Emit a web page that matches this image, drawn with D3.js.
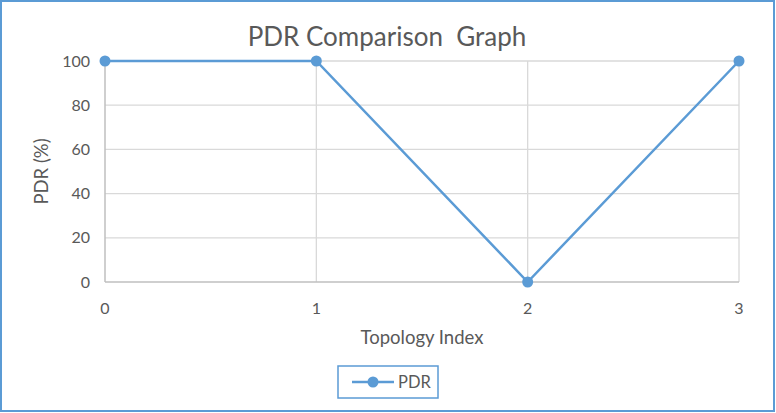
<!DOCTYPE html>
<html><head><meta charset="utf-8">
<script src="https://cdn.jsdelivr.net/npm/d3@7"></script>
<style>body{margin:0;background:#fff;} svg{display:block;font-family:Lato,"Open Sans",sans-serif;}</style>
</head><body>
<svg id="c" width="776" height="413"></svg>
<script>
const xValues = [0, 1, 2, 3];
const pdrValues = [100, 100, 0, 100];
const yTicks = [0, 20, 40, 60, 80, 100];
const xTicks = [0, 1, 2, 3];
const seriesName = "PDR";

const svg = d3.select("#c");
const W = 776, H = 413;
const blue = "#5B9BD5", txt = "#595959";
svg.append("rect").attr("x",1).attr("y",1).attr("width",W-3).attr("height",H-3)
  .attr("fill","#fff").attr("stroke",blue).attr("stroke-width",2);

const x = d3.scaleLinear().domain([0,3]).range([105,739]);
const y = d3.scaleLinear().domain([0,100]).range([282,61]);

// gridlines
svg.append("g").selectAll("line").data(yTicks.filter(d=>d>0)).join("line")
  .attr("x1",x(0)).attr("x2",x(3)).attr("y1",d=>y(d)).attr("y2",d=>y(d))
  .attr("stroke","#D9D9D9").attr("stroke-width",1.3);
svg.append("g").selectAll("line").data(xTicks.filter(d=>d>0)).join("line")
  .attr("y1",y(0)).attr("y2",y(100)).attr("x1",d=>x(d)).attr("x2",d=>x(d))
  .attr("stroke","#D9D9D9").attr("stroke-width",1.3);

// axes lines
svg.append("line").attr("x1",x(0)).attr("x2",x(3)).attr("y1",y(0)).attr("y2",y(0))
  .attr("stroke","#BFBFBF").attr("stroke-width",1.5);
svg.append("line").attr("x1",x(0)).attr("x2",x(0)).attr("y1",y(0)).attr("y2",y(100))
  .attr("stroke","#BFBFBF").attr("stroke-width",1.5);

// tick labels
svg.append("g").selectAll("text").data(yTicks).join("text")
  .attr("x",x(0)-15).attr("y",d=>y(d)).attr("dy","0.35em").attr("text-anchor","end")
  .attr("fill",txt).attr("font-size",16).text(d=>d);
svg.append("g").selectAll("text").data(xTicks).join("text")
  .attr("x",d=>x(d)).attr("y",y(0)+32).attr("text-anchor","middle")
  .attr("fill",txt).attr("font-size",16).text(d=>d);

// titles
svg.append("text").attr("x",387).attr("y",46).attr("text-anchor","middle")
  .style("white-space","pre")
  .attr("fill",txt).attr("font-size",26).text("PDR Comparison  Graph");
svg.append("text").attr("x",422).attr("y",344).attr("text-anchor","middle")
  .attr("fill",txt).attr("font-size",18.5).text("Topology Index");
svg.append("text").attr("transform",`translate(48,${(y(0)+y(100))/2}) rotate(-90)`)
  .attr("text-anchor","middle").attr("fill",txt).attr("font-size",18.5).text("PDR (%)");

// line
const data = xValues.map((v,i)=>({x:v,y:pdrValues[i]}));
svg.append("path").datum(data).attr("fill","none").attr("stroke",blue).attr("stroke-width",2.5)
  .attr("d",d3.line().x(d=>x(d.x)).y(d=>y(d.y)));
svg.append("g").selectAll("circle").data(data).join("circle")
  .attr("cx",d=>x(d.x)).attr("cy",d=>y(d.y)).attr("r",5.5).attr("fill",blue);

// legend
const lg = svg.append("g");
lg.append("rect").attr("x",338).attr("y",366).attr("width",100).attr("height",32)
  .attr("fill","#fff").attr("stroke",blue).attr("stroke-width",1.5);
lg.append("line").attr("x1",352).attr("x2",394).attr("y1",382).attr("y2",382)
  .attr("stroke",blue).attr("stroke-width",2.5);
lg.append("circle").attr("cx",373).attr("cy",382).attr("r",5.5).attr("fill",blue);
lg.append("text").attr("x",398).attr("y",382).attr("dy","0.35em").attr("fill",txt)
  .attr("font-size",16.5).text(seriesName);
</script>
</body></html>
